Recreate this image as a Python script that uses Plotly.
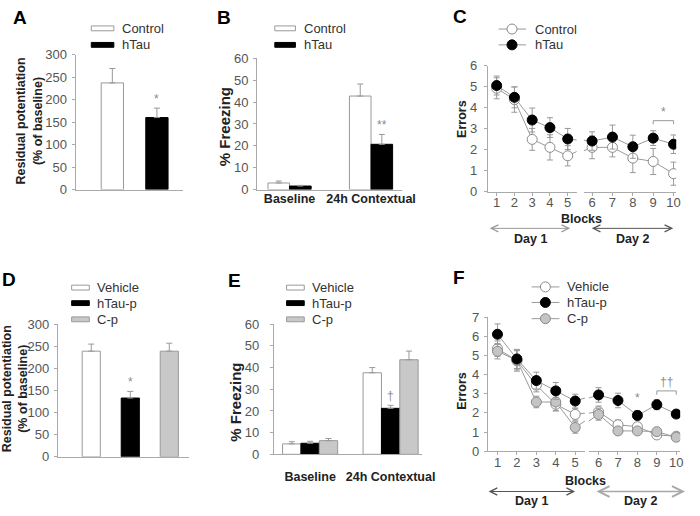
import plotly.graph_objects as go

W, H = 700, 516
def px(x): return x / W
def py(y): return 1 - y / H

FONT = "Liberation Sans, Arial, sans-serif"
TICK_C = "#555555"
AXIS_C = "#aaaaaa"
TITLE_C = "#222222"
ERR_C = "#999999"
LINE_C = "#999999"

# ---------------- data ----------------
# A
a_groups = ["Control", "hTau"]
a_vals = [237, 160]
a_errs = [32, 21]
# B
b_cats = ["Baseline", "24h Contextual"]
b_control = [3.0, 42.8]
b_control_err = [0.9, 5.5]
b_htau = [1.6, 20.7]
b_htau_err = [0.3, 4.5]
# C
blocks = [1, 2, 3, 4, 5, 6, 7, 8, 9, 10]
c_control = [4.92, 4.38, 2.49, 2.11, 1.71, 2.11, 2.11, 1.60, 1.44, 0.86]
c_control_err = [0.50, 0.60, 0.52, 0.60, 0.48, 0.54, 0.45, 0.69, 0.62, 0.55]
c_htau = [5.05, 4.49, 3.41, 3.05, 2.51, 2.41, 2.60, 2.14, 2.55, 2.26]
c_htau_err = [0.45, 0.50, 0.57, 0.47, 0.50, 0.44, 0.57, 0.55, 0.35, 0.44]
# D
d_groups = ["Vehicle", "hTau-p", "C-p"]
d_vals = [239, 133, 239]
d_errs = [16, 15, 18]
# E
e_cats = ["Baseline", "24h Contextual"]
e_vehicle = [4.8, 37.6]
e_vehicle_err = [1.0, 2.4]
e_htau = [5.1, 21.2]
e_htau_err = [0.9, 1.4]
e_cp = [6.3, 43.6]
e_cp_err = [1.0, 4.0]
# F
f_vehicle = [5.36, 4.73, 3.45, 2.45, 1.92, 2.06, 1.38, 1.28, 0.85, 0.78]
f_vehicle_err = [0.40, 0.55, 0.35, 0.35, 0.30, 0.30, 0.25, 0.20, 0.10, 0.12]
f_htau = [6.11, 4.82, 3.69, 3.15, 2.62, 2.94, 2.65, 1.87, 2.43, 1.94]
f_htau_err = [0.54, 0.50, 0.44, 0.44, 0.36, 0.38, 0.38, 0.25, 0.26, 0.12]
f_cp = [5.22, 4.75, 2.57, 2.57, 1.24, 1.92, 1.06, 1.06, 1.02, 0.73]
f_cp_err = [0.40, 0.50, 0.30, 0.45, 0.30, 0.30, 0.15, 0.15, 0.10, 0.15]

# ---------------- styles ----------------
BAR_STYLE = {
    "white": dict(color="white", line=dict(color="#999999", width=1)),
    "black": dict(color="black", line=dict(color="black", width=1)),
    "gray": dict(color="#c8c8c8", line=dict(color="#999999", width=1)),
}
MK_STYLE = {
    "white": dict(color="white", size=10, line=dict(color="#8a8a8a", width=1)),
    "black": dict(color="black", size=10, line=dict(color="black", width=1)),
    "gray": dict(color="#c4c4c4", size=10, line=dict(color="#8a8a8a", width=1)),
}

def err_up(vals):
    return dict(type="data", array=vals, arrayminus=[0] * len(vals), symmetric=False,
                color=ERR_C, thickness=1, width=3)

def err_sym(vals):
    return dict(type="data", array=vals, color=ERR_C, thickness=1, width=3)

fig = go.Figure()

# ---- A ----
for g, v, e, st in zip(a_groups, a_vals, a_errs, ["white", "black"]):
    fig.add_trace(go.Bar(x=[g], y=[v], width=0.5, marker=BAR_STYLE[st], error_y=err_up([e]),
                         xaxis="x", yaxis="y", showlegend=False))
# ---- B ----
bw = 0.265
for vals, errs, st, off in [(b_control, b_control_err, "white", -bw), (b_htau, b_htau_err, "black", 0)]:
    fig.add_trace(go.Bar(x=b_cats, y=vals, width=bw, offset=off, marker=BAR_STYLE[st],
                         error_y=err_up(errs), xaxis="x2", yaxis="y2", showlegend=False))
# ---- D ----
for g, v, e, st in zip(d_groups, d_vals, d_errs, ["white", "black", "gray"]):
    fig.add_trace(go.Bar(x=[g], y=[v], width=0.465, marker=BAR_STYLE[st], error_y=err_up([e]),
                         xaxis="x5", yaxis="y5", showlegend=False))
# ---- E ----
ew = 0.228
for vals, errs, st, off in [(e_vehicle, e_vehicle_err, "white", -1.5 * ew),
                            (e_htau, e_htau_err, "black", -0.5 * ew),
                            (e_cp, e_cp_err, "gray", 0.5 * ew)]:
    fig.add_trace(go.Bar(x=e_cats, y=vals, width=ew, offset=off, marker=BAR_STYLE[st],
                         error_y=err_up(errs), xaxis="x6", yaxis="y6", showlegend=False))

# ---- line panels (two days on separate x axes) ----
def add_day_series(vals, xa1, xa2, ya):
    # each day's line runs towards the other day's first point and is clipped at the panel edge
    fig.add_trace(go.Scatter(x=blocks[:6], y=vals[:6], mode="lines",
                             line=dict(color=LINE_C, width=1), xaxis=xa1, yaxis=ya,
                             showlegend=False, hoverinfo="skip"))
    fig.add_trace(go.Scatter(x=blocks[4:], y=vals[4:], mode="lines",
                             line=dict(color=LINE_C, width=1), xaxis=xa2, yaxis=ya,
                             showlegend=False, hoverinfo="skip"))

def add_day_markers(vals, errs, st, xa1, xa2, ya):
    fig.add_trace(go.Scatter(x=blocks[:5], y=vals[:5], mode="markers", marker=MK_STYLE[st],
                             error_y=err_sym(errs[:5]), xaxis=xa1, yaxis=ya, showlegend=False))
    fig.add_trace(go.Scatter(x=blocks[5:], y=vals[5:], mode="markers", marker=MK_STYLE[st],
                             error_y=err_sym(errs[5:]), xaxis=xa2, yaxis=ya, showlegend=False))

c_series = [(c_control, c_control_err, "white"), (c_htau, c_htau_err, "black")]
for vals, errs, st in c_series:
    add_day_series(vals, "x3", "x4", "y3")
for vals, errs, st in c_series:
    add_day_markers(vals, errs, st, "x3", "x4", "y3")

f_series = [(f_vehicle, f_vehicle_err, "white"), (f_cp, f_cp_err, "gray"), (f_htau, f_htau_err, "black")]
for vals, errs, st in f_series:
    add_day_series(vals, "x7", "x8", "y7")
for vals, errs, st in f_series:
    add_day_markers(vals, errs, st, "x7", "x8", "y7")

# ---------------- axes ----------------
def yax(dom, rng, dtick, anchor, standoff=2):
    return dict(domain=[py(dom[1]), py(dom[0])], range=rng, dtick=dtick, tick0=0, anchor=anchor,
                showline=True, linecolor=AXIS_C, linewidth=1, ticks="outside", ticklen=3,
                tickcolor=AXIS_C, tickfont=dict(size=13, color=TICK_C, family=FONT),
                showgrid=False, zeroline=False, fixedrange=True, ticklabelstandoff=standoff)

def xcat(dom, rng, anchor, show_labels, standoff=0):
    return dict(domain=[px(dom[0]), px(dom[1])], range=rng, anchor=anchor, type="category",
                showline=True, linecolor=AXIS_C, linewidth=1, ticks="",
                showticklabels=show_labels, ticklabelstandoff=standoff,
                tickfont=dict(size=12.5, color=TITLE_C, family=FONT, weight="bold"),
                showgrid=False, zeroline=False, fixedrange=True)

def xnum(dom, rng, anchor, tick0):
    return dict(domain=[px(dom[0]), px(dom[1])], range=rng, anchor=anchor,
                dtick=1, tick0=tick0, showline=True, linecolor=AXIS_C, linewidth=1,
                ticks="outside", ticklen=3, tickcolor=AXIS_C,
                tickfont=dict(size=13, color=TICK_C, family=FONT), ticklabelstandoff=-4,
                showgrid=False, zeroline=False, fixedrange=True)

fig.update_layout(
    xaxis=xcat([77, 186], [-0.825, 1.575], "y", False),
    yaxis=yax([49, 188], [0, 300], 50, "x"),
    xaxis2=xcat([262, 410], [-0.398, 1.385], "y2", True, -3),
    yaxis2=yax([53, 188], [0, 60], 10, "x2"),
    xaxis3=xnum([497, 587.5], [0.5, 5.5], "y3", 1),
    xaxis4=xnum([595, 689], [5.6, 10.13], "y3", 6),
    yaxis3=yax([60.3, 190.3], [0, 6], 1, "x3", 4),
    xaxis5=xcat([59, 193], [-0.855, 2.516], "y5", False),
    yaxis5=yax([326.7, 463.3], [0, 300], 50, "x5"),
    xaxis6=xcat([279, 430], [-0.451, 1.39], "y6", True, 11),
    yaxis6=yax([326.7, 460.7], [0, 60], 10, "x6", 8),
    xaxis7=xnum([497, 596], [0.5, 5.5], "y7", 1),
    xaxis8=xnum([600, 693], [5.5, 10.2], "y7", 6),
    yaxis7=yax([319.5, 457.5], [0, 7], 1, "x7"),
)

# ---------------- annotations & shapes ----------------
ann = []
shapes = []

def text(x, y, s, size=12.5, bold=True, color=TITLE_C, angle=0, xanchor="center", yanchor="middle"):
    ann.append(dict(x=px(x), y=py(y), xref="paper", yref="paper", text=s, showarrow=False,
                    textangle=angle, xanchor=xanchor, yanchor=yanchor,
                    font=dict(size=size, color=color, family=FONT, weight="bold" if bold else "normal")))

# panel letters
for letter, x, y in [("A", 20, 11), ("B", 228, 11), ("C", 469, 10), ("D", 9, 281), ("E", 239, 282), ("F", 468, 279)]:
    text(x, y, letter, size=19, color="black")

# y titles
text(29.5, 117, "Residual potentiation<br>(% of baseline)", angle=-90)
text(229, 123, "% Freezing", size=15, angle=-90)
text(470, 115, "Errors", angle=-90)
text(15, 393, "Residual potentiation<br>(% of baseline)", angle=-90)
text(240, 407, "% Freezing", size=15, angle=-90)
text(470, 395, "Errors", angle=-90)

# Blocks / days
text(592, 218, "Blocks")
text(597, 488, "Blocks")
text(541, 239, "Day 1")
text(644, 239, "Day 2")
text(542, 509, "Day 1")
text(653, 509, "Day 2")

def darrow(x0, x1, y, color, width=1):
    ann.append(dict(x=px(x1), y=py(y), xref="paper", yref="paper", ax=x0 - x1, ay=0,
                    axref="pixel", ayref="pixel", text="", showarrow=True,
                    arrowhead=5, startarrowhead=5, arrowside="end+start",
                    arrowsize=1.4, startarrowsize=1.4, arrowwidth=width, arrowcolor=color,
                    standoff=0, startstandoff=0))

darrow(499, 581, 228, "#9a9a9a")
darrow(603, 686, 228, "#555555")
darrow(498, 586, 499, "#555555")
darrow(608, 698, 499, "#a8a8a8", 1.5)

# significance marks
def sig(xref, yref, x, y, s, yshift=2):
    ann.append(dict(x=x, y=y, xref=xref, yref=yref, text=s, showarrow=False, yanchor="bottom",
                    yshift=yshift, font=dict(size=12, color="#8a8a8a", family=FONT)))

sig("x", "y", a_groups[1], a_vals[1] + a_errs[1], "*", 0)
sig("x2", "y2", 1 + bw / 2, b_htau[1] + b_htau_err[1], "**", 0)
sig("x5", "y5", d_groups[1], d_vals[1] + d_errs[1], "*", 0)
sig("x6", "y6", 1, e_htau[1] + e_htau_err[1], "†", 0)
sig("x8", "y7", blocks[7], f_htau[7] + f_htau_err[7], "*", 4)

def bracket(xref, yref, xa, xb, ytop, drop):
    shapes.append(dict(type="path", xref=xref, yref=yref,
                       path=f"M{xa},{ytop - drop} L{xa},{ytop} L{xb},{ytop} L{xb},{ytop - drop}",
                       line=dict(color="#999999", width=1)))

c_top = max(v + e for v, e in zip(c_htau[8:], c_htau_err[8:])) + 0.48
bracket("x4", "y3", blocks[8], blocks[9], c_top, 0.17)
sig("x4", "y3", (blocks[8] + blocks[9]) / 2, c_top, "*", 0)
f_top = max(v + e for v, e in zip(f_htau[8:], f_htau_err[8:])) + 0.46
bracket("x8", "y7", blocks[8], blocks[9], f_top, 0.2)
sig("x8", "y7", (blocks[8] + blocks[9]) / 2, f_top, "††", 0)

# legends (manual)
def bar_legend(x0, x1, ys, labels, styles, tx):
    for y, lab, st in zip(ys, labels, styles):
        s = BAR_STYLE[st]
        shapes.append(dict(type="rect", xref="paper", yref="paper", x0=px(x0), x1=px(x1),
                           y0=py(y + 2.5), y1=py(y - 2.5), fillcolor=s["color"],
                           line=dict(color=s["line"]["color"], width=1)))
        text(tx, y, lab, size=13, bold=False, color="#333333", xanchor="left")

def line_legend(x0, x1, xm, ys, labels, styles, tx):
    for y, lab, st in zip(ys, labels, styles):
        m = MK_STYLE[st]
        shapes.append(dict(type="line", xref="paper", yref="paper", x0=px(x0), x1=px(x1),
                           y0=py(y), y1=py(y), line=dict(color=LINE_C, width=1)))
        shapes.append(dict(type="circle", xref="paper", yref="paper", xsizemode="pixel",
                           ysizemode="pixel", xanchor=px(xm), yanchor=py(y),
                           x0=-5, x1=5, y0=-5, y1=5, fillcolor=m["color"],
                           line=dict(color=m["line"]["color"], width=1)))
        text(tx, y, lab, size=13, bold=False, color="#333333", xanchor="left")

bar_legend(93, 116, [22, 39], a_groups, ["white", "black"], 122)
bar_legend(280, 301, [22, 39], a_groups, ["white", "black"], 308)
line_legend(508, 536, 521.7, [22.7, 39], a_groups, ["white", "black"], 542.7)
bar_legend(73, 91, [289, 305, 321.7], d_groups, ["white", "black", "gray"], 97)
bar_legend(292, 310, [289, 305, 321.7], d_groups, ["white", "black", "gray"], 316)
line_legend(541.7, 570, 555.7, [288.3, 304.3, 321], d_groups, ["white", "black", "gray"], 576)

fig.update_layout(
    width=W, height=H, autosize=False,
    margin=dict(l=0, r=0, t=0, b=0),
    paper_bgcolor="white", plot_bgcolor="white",
    barmode="overlay", showlegend=False,
    font=dict(family=FONT),
    annotations=ann, shapes=shapes,
)

fig.write_html("out.html", config={"displayModeBar": False},
               post_script="document.body.style.margin='0';document.body.style.padding='0';")
